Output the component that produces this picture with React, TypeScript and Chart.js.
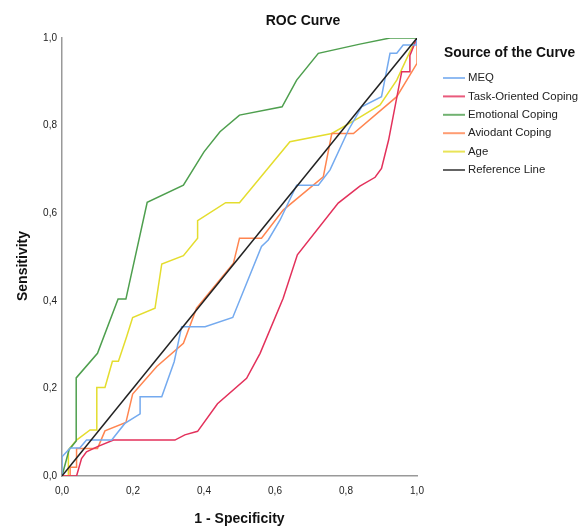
import React, { useEffect, useRef } from "react";
import { Chart, registerables } from "chart.js";

Chart.register(...registerables);

const seriesNames = ["MEQ", "Task-Oriented Coping", "Emotional Coping", "Aviodant Coping", "Age", "Reference Line"];
const seriesColors = ["#74aaef", "#e3315b", "#4e9f4e", "#ff8550", "#e4dd2e", "#222222"];

const meq: number[][] = [
  [0, 0], [0, 0.044], [0.023, 0.064], [0.05, 0.064], [0.069, 0.082], [0.14, 0.082], [0.177, 0.12], [0.22, 0.142],
  [0.22, 0.181], [0.281, 0.181], [0.316, 0.261], [0.337, 0.341], [0.403, 0.341], [0.481, 0.362], [0.562, 0.524],
  [0.581, 0.539], [0.614, 0.584], [0.661, 0.664], [0.722, 0.664], [0.755, 0.699], [0.807, 0.79], [0.844, 0.843],
  [0.9, 0.866], [0.924, 0.965], [0.943, 0.965], [0.961, 0.984], [0.998, 0.984], [1, 1],
];
const taskOriented: number[][] = [
  [0, 0], [0.041, 0], [0.055, 0.04], [0.069, 0.055], [0.1, 0.067], [0.145, 0.082], [0.318, 0.082], [0.346, 0.094],
  [0.382, 0.102], [0.438, 0.165], [0.52, 0.223], [0.558, 0.28], [0.623, 0.406], [0.663, 0.505], [0.778, 0.623],
  [0.839, 0.662], [0.882, 0.682], [0.9, 0.702], [0.92, 0.767], [0.957, 0.923], [0.98, 0.923], [0.98, 0.96], [1, 1],
];
const emotional: number[][] = [
  [0, 0], [0.02, 0.06], [0.04, 0.08], [0.04, 0.224], [0.1, 0.28], [0.158, 0.404], [0.18, 0.404], [0.24, 0.625],
  [0.342, 0.664], [0.4, 0.74], [0.445, 0.786], [0.5, 0.824], [0.62, 0.843], [0.661, 0.904], [0.722, 0.965],
  [0.839, 0.986], [0.924, 1], [1, 1],
];
const avoidant: number[][] = [
  [0, 0], [0.023, 0], [0.023, 0.02], [0.041, 0.02], [0.041, 0.063], [0.1, 0.063], [0.121, 0.103], [0.18, 0.122],
  [0.199, 0.187], [0.267, 0.25], [0.342, 0.303], [0.379, 0.383], [0.483, 0.486], [0.5, 0.543], [0.562, 0.543],
  [0.623, 0.607], [0.736, 0.683], [0.76, 0.782], [0.821, 0.782], [0.943, 0.866], [1, 0.942], [1, 1],
];
const age: number[][] = [
  [0, 0], [0.018, 0], [0.018, 0.06], [0.041, 0.082], [0.079, 0.105], [0.098, 0.105], [0.098, 0.202], [0.121, 0.202],
  [0.142, 0.262], [0.159, 0.262], [0.182, 0.318], [0.199, 0.362], [0.262, 0.383], [0.281, 0.484], [0.342, 0.503],
  [0.382, 0.543], [0.382, 0.583], [0.461, 0.624], [0.5, 0.624], [0.642, 0.763], [0.76, 0.782], [0.835, 0.817],
  [0.896, 0.847], [0.943, 0.904], [0.98, 0.969], [1, 1],
];
const reference: number[][] = [[0, 0], [1, 1]];

const tickValues = [0, 0.2, 0.4, 0.6, 0.8, 1.0];
const chartTitle = "ROC Curve";
const legendTitle = "Source of the Curve";
const xTitle = "1 - Specificity";
const yTitle = "Sensitivity";

const FONT = "'Liberation Sans', Arial, sans-serif";

const fmt = (v: number) => v.toFixed(1).replace(".", ",");

export default function App() {
  const ref = useRef<HTMLCanvasElement | null>(null);
  useEffect(() => {
    document.body.style.margin = "0";
    document.body.style.overflow = "hidden";
    const canvas = ref.current;
    if (!canvas) return;
    const all = [meq, taskOriented, emotional, avoidant, age, reference];
    const textPlugin = {
      id: "texts",
      afterDraw(chart: any) {
        const ctx = chart.ctx;
        ctx.save();
        ctx.fillStyle = "#111";
        ctx.textBaseline = "middle";
        ctx.textAlign = "center";
        ctx.font = `bold 14px ${FONT}`;
        ctx.fillText(chartTitle, 303, 21);
        const ca = chart.chartArea;
        ctx.fillText(xTitle, (ca.left + ca.right) / 2, 519);
        ctx.save();
        ctx.translate(23, 266);
        ctx.rotate(-Math.PI / 2);
        ctx.fillText(yTitle, 0, 0);
        ctx.restore();
        // legend
        ctx.textAlign = "left";
        ctx.font = `bold 13.8px ${FONT}`;
        ctx.fillText(legendTitle, 444, 53);
        ctx.font = `11.4px ${FONT}`;
        seriesNames.forEach((name, i) => {
          const y = 78 + i * 18.4;
          ctx.strokeStyle = seriesColors[i];
          ctx.globalAlpha = i === 5 ? 0.7 : 0.8;
          ctx.lineWidth = 2;
          ctx.beginPath();
          ctx.moveTo(443, y);
          ctx.lineTo(465, y);
          ctx.stroke();
          ctx.globalAlpha = 1;
          ctx.fillStyle = "#222";
          ctx.fillText(name, 468, y);
        });
        ctx.restore();
      },
    };
    const chart = new Chart(canvas, {
      type: "scatter",
      data: {
        datasets: all.map((arr, i) => ({
          label: seriesNames[i],
          data: arr.map((p) => ({ x: p[0], y: p[1] })),
          showLine: true,
          borderColor: seriesColors[i],
          backgroundColor: seriesColors[i],
          borderWidth: 1.5,
          pointRadius: 0,
          tension: 0,
          order: i === 5 ? 0 : i + 1,
        })),
      },
      options: {
        animation: false,
        responsive: false,
        maintainAspectRatio: false,
        layout: { padding: { top: 38, right: 167, bottom: 0, left: 0 } },
        plugins: { legend: { display: false }, tooltip: { enabled: false }, title: { display: false } },
        scales: {
          x: {
            type: "linear",
            min: 0,
            max: 1,
            afterFit: (s: any) => { s.height = 52; },
            afterBuildTicks: (s: any) => { s.ticks = tickValues.map((v) => ({ value: v })); },
            grid: { display: false },
            border: { display: true, color: "#999", width: 1.5 },
            ticks: { padding: 1, color: "#222", font: { size: 10, family: FONT }, callback: (v: any) => fmt(Number(v)) },
          },
          y: {
            type: "linear",
            min: 0,
            max: 1,
            afterFit: (s: any) => { s.width = 62; },
            afterBuildTicks: (s: any) => { s.ticks = tickValues.map((v) => ({ value: v })); },
            grid: { display: false },
            border: { display: true, color: "#999", width: 1.5 },
            ticks: { padding: -3, color: "#222", font: { size: 10, family: FONT }, callback: (v: any) => fmt(Number(v)) },
          },
        },
      },
      plugins: [textPlugin],
    });
    return () => chart.destroy();
  }, []);
  return <canvas ref={ref} width={584} height={528} style={{ display: "block", width: 584, height: 528 }} />;
}
